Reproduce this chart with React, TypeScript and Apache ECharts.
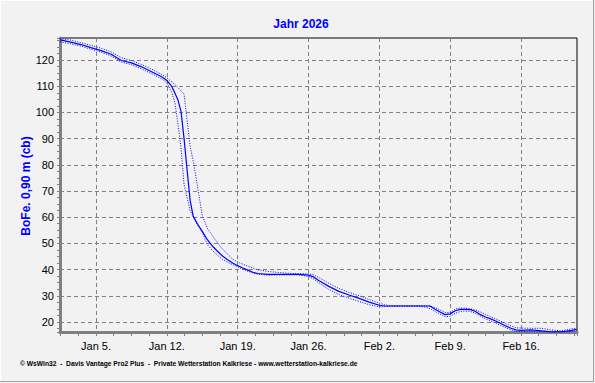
import React, { useEffect, useRef } from 'react';
import * as echarts from 'echarts';

// days since Jan 5, 2026 00:00
const dayOffsets = [
  -3.55, -2.5, -1.5, -0.5, 0.5, 1.5, 2.5, 3.5, 4.5, 5.5,
  6.5, 7, 7.5, 7.8, 8.1, 8.4, 8.7, 9, 9.3, 9.6,
  10, 10.5, 11, 11.5, 12, 12.5, 13, 13.5, 14, 14.5,
  15, 15.5, 16, 17, 18, 19, 20, 21, 21.5, 22,
  23, 24, 25, 26, 27, 28, 28.5, 29, 30, 31,
  32, 32.5, 33, 33.5, 34, 34.5, 35, 35.5, 36, 36.5,
  37, 37.5, 38, 38.5, 39, 39.5, 40, 40.5, 41, 41.5,
  42, 43, 44, 45, 46, 47, 47.5,
];

const soilCenter = [
  127.7, 126.8, 125.9, 124.7, 123.6, 122.2, 119.8, 118.9, 117.4, 115.5,
  113.6, 112.2, 109.8, 107.3, 104.7, 100.3, 90, 78, 66.4, 60.4,
  57.6, 54.6, 51.4, 49, 47, 45.2, 43.8, 42.5, 41.5, 40.6,
  39.8, 39.0, 38.5, 38.2, 38.2, 38.2, 38.2, 37.9, 37.2, 35.8,
  33.6, 31.7, 30.3, 29.0, 27.6, 26.4, 26.1, 26.1, 26.1, 26.1,
  26.1, 26.1, 26.1, 24.9, 23.8, 22.8, 23.1, 24.3, 24.8, 24.8,
  24.7, 24.0, 22.8, 21.9, 21.2, 20.4, 19.4, 18.5, 17.6, 17.0,
  16.8, 17.0, 16.6, 16.2, 16.2, 16.8, 17.2,
];

const soilMax = [
  128.2, 127.6, 126.6, 125.6, 124.5, 123.1, 120.9, 119.8, 118.3, 116.5,
  114.5, 113.2, 111.6, 110.6, 109.5, 108.2, 107, 97, 87, 81.6,
  72.5, 60.6, 55.8, 53, 50.3, 47.8, 45.9, 44.0, 42.9, 42.1,
  41.3, 40.6, 39.9, 39.3, 38.9, 38.6, 38.5, 38.4, 38.0, 37.0,
  34.8, 32.8, 31.3, 30.0, 28.6, 27.2, 26.6, 26.2, 26.2, 26.2,
  26.2, 26.2, 26.1, 25.5, 24.6, 23.6, 23.6, 25.0, 25.3, 25.3,
  25.0, 24.6, 23.8, 22.9, 22.0, 21.2, 20.3, 19.4, 18.5, 17.8,
  17.7, 17.6, 17.6, 17.0, 16.6, 17.4, 17.5,
];

const soilMin = [
  126.9, 126.2, 125.3, 124.1, 123.0, 121.5, 119.2, 118.2, 116.6, 114.8,
  112.8, 111.3, 107.5, 103.5, 95.5, 86.5, 72.5, 67.5, 62.5, 60.3,
  57.2, 54.2, 49.5, 47.3, 45.5, 43.9, 42.8, 41.9, 41.0, 40.2,
  39.4, 38.7, 38.2, 37.9, 38.0, 38.0, 38.0, 37.4, 36.4, 35.0,
  32.4, 30.5, 29.1, 27.8, 26.6, 25.8, 25.9, 26.0, 26.0, 26.0,
  26.0, 25.7, 25.1, 24.0, 23.0, 22.0, 22.2, 23.3, 24.0, 24.2,
  24.0, 23.3, 22.2, 21.2, 20.4, 19.6, 18.7, 17.8, 17.0, 16.4,
  16.2, 16.3, 16.2, 16.2, 16.2, 16.3, 16.8,
];

const weekLabels = ['Jan 5.', 'Jan 12.', 'Jan 19.', 'Jan 26.', 'Feb 2.', 'Feb 9.', 'Feb 16.'];

const titleText = 'Jahr 2026';
const yAxisTitle = 'BoFe. 0,90 m (cb)';
const footerText = '\u00A9 WsWin32  -  Davis Vantage Pro2 Plus  -  Private Wetterstation Kalkriese - www.wetterstation-kalkriese.de';

const pair = (ys: number[]) => dayOffsets.map((t, i) => [t, ys[i]]);

const FONT = "'Liberation Sans', Arial, sans-serif";
const GRID_COLOR = '#808080';
const BLUE = '#0000ff';

export default function App() {
  const ref = useRef<HTMLDivElement>(null);

  useEffect(() => {
    if (!ref.current) return;
    const chart = echarts.init(ref.current, null, { renderer: 'svg' });
    const dashed = { color: GRID_COLOR, type: [4, 3], width: 1 };
    chart.setOption({
      animation: false,
      backgroundColor: '#f2f2f2',
      textStyle: { fontFamily: FONT },
      grid: {
        left: 60,
        top: 38,
        width: 517,
        height: 294,
        show: true,
        borderColor: '#000',
        borderWidth: 1,
        backgroundColor: 'transparent',
      },
      xAxis: {
        type: 'value',
        min: -3.56,
        max: 47.53,
        minInterval: 7,
        maxInterval: 7,
        axisLine: { show: true, onZero: false, lineStyle: { color: GRID_COLOR, width: 3 } },
        axisTick: { show: true, length: 4, lineStyle: { color: GRID_COLOR, width: 1 } },
        minorTick: { show: true, splitNumber: 4, length: 4, lineStyle: { color: GRID_COLOR, width: 1 } },
        axisLabel: {
          margin: 8,
          fontSize: 11,
          color: '#000',
          fontFamily: FONT,
          formatter: (v: number) => {
            const k = v / 7;
            if (Math.abs(k - Math.round(k)) > 1e-6) return '';
            return weekLabels[Math.round(k)] ?? '';
          },
        },
        splitLine: { show: true, showMinLine: false, showMaxLine: false, lineStyle: dashed },
      },
      yAxis: {
        type: 'value',
        min: 16.18,
        max: 128.4,
        minInterval: 10,
        maxInterval: 10,
        splitNumber: 10,
        axisLine: { show: true, onZero: false, lineStyle: { color: GRID_COLOR, width: 3 } },
        axisTick: { show: true, length: 3, lineStyle: { color: GRID_COLOR, width: 1 } },
        minorTick: { show: true, splitNumber: 4, length: 3, lineStyle: { color: GRID_COLOR, width: 1 } },
        axisLabel: {
          margin: 6,
          fontSize: 11,
          color: '#000',
          fontFamily: FONT,
          formatter: (v: number) => (Math.abs(v / 10 - Math.round(v / 10)) < 1e-6 ? String(Math.round(v)) : ''),
        },
        splitLine: { show: true, showMinLine: false, showMaxLine: false, lineStyle: dashed },
      },
      series: [
        {
          name: 'max',
          type: 'line',
          data: pair(soilMax),
          symbol: 'none',
          silent: true,
          lineStyle: { color: BLUE, width: 1, type: [1, 1.5] },
        },
        {
          name: 'min',
          type: 'line',
          data: pair(soilMin),
          symbol: 'none',
          silent: true,
          lineStyle: { color: BLUE, width: 1, type: [1, 1.5] },
        },
        {
          name: 'mittel',
          type: 'line',
          data: pair(soilCenter),
          symbol: 'none',
          silent: true,
          lineStyle: { color: BLUE, width: 1.2 },
        },
      ],
      graphic: [
        {
          type: 'text',
          x: 301,
          y: 24,
          style: {
            text: titleText,
            fill: BLUE,
            font: `bold 12px ${FONT}`,
            textAlign: 'center',
            textVerticalAlign: 'middle',
          },
        },
        {
          type: 'text',
          x: 26,
          y: 186,
          rotation: Math.PI / 2,
          style: {
            text: yAxisTitle,
            fill: BLUE,
            font: `bold 12px ${FONT}`,
            textAlign: 'center',
            textVerticalAlign: 'middle',
          },
        },
        {
          type: 'text',
          x: 20,
          y: 363.5,
          style: {
            text: footerText,
            fill: '#000',
            font: `bold 6.7px ${FONT}`,
            textAlign: 'left',
            textVerticalAlign: 'middle',
          },
        },
        {
          type: 'line',
          shape: { x1: 593.5, y1: 0, x2: 593.5, y2: 382 },
          style: { stroke: '#a0a0a0', lineWidth: 1 },
        },
        {
          type: 'line',
          shape: { x1: 0, y1: 381.5, x2: 594, y2: 381.5 },
          style: { stroke: '#a0a0a0', lineWidth: 1 },
        },
        {
          type: 'line',
          shape: { x1: 0.5, y1: 0, x2: 0.5, y2: 381 },
          style: { stroke: '#ffffff', lineWidth: 1 },
        },
        {
          type: 'line',
          shape: { x1: 0, y1: 0.5, x2: 593, y2: 0.5 },
          style: { stroke: '#ffffff', lineWidth: 1 },
        },
      ],
    });
    return () => chart.dispose();
  }, []);

  return (
    <div
      ref={ref}
      style={{ position: 'fixed', left: 0, top: 0, width: 595, height: 383 }}
    />
  );
}
